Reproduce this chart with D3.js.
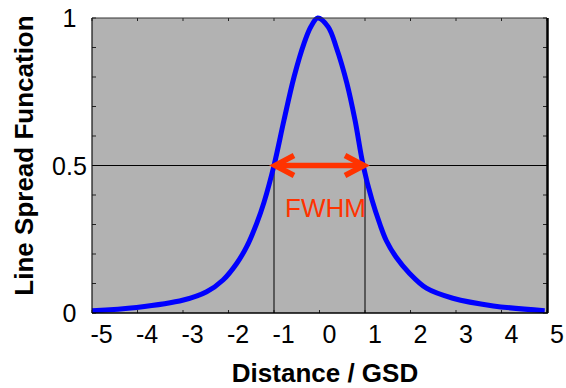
<!DOCTYPE html>
<html><head><meta charset="utf-8">
<script src="https://cdn.jsdelivr.net/npm/d3@7"></script>
<style>body{margin:0;background:#fff}svg{display:block}text{font-family:"Liberation Sans",Arial,sans-serif}</style>
</head><body><svg id="c" width="566" height="388"></svg>
<script>
// Data
const lsfX = [-5, -4.02, -2.99, -2.48, -2.12, -1.82, -1.60, -1.38, -1.22, -1.0, -0.78, -0.56, -0.34, -0.19, -0.04, 0.19, 0.37, 0.60, 0.78, 0.96, 1.15, 1.33, 1.47, 1.69, 1.98, 2.35, 2.93, 3.82, 4.95];
const lsfY = [0.008, 0.019, 0.044, 0.072, 0.112, 0.168, 0.225, 0.304, 0.375, 0.5, 0.654, 0.80, 0.914, 0.97, 1.0, 0.97, 0.90, 0.78, 0.654, 0.5, 0.385, 0.300, 0.245, 0.188, 0.134, 0.084, 0.05, 0.024, 0.008];
const xTicks = [-5, -4, -3, -2, -1, 0, 1, 2, 3, 4, 5];
const yTickLabels = [0, 0.5, 1];
const yMinorTicks = [0, 0.1, 0.2, 0.3, 0.4, 0.5, 0.6, 0.7, 0.8, 0.9, 1];
const halfMax = 0.5;
const fwhmLeft = -1, fwhmRight = 1;
const xTitle = "Distance / GSD";
const yTitle = "Line Spread Funcation";
const fwhmLabel = "FWHM";

const svg = d3.select("#c");
const L = 92, R = 547, T = 18, B = 313;
const x = d3.scaleLinear().domain([-5, 5]).range([L, R]);
const y = d3.scaleLinear().domain([0, 1]).range([B, T]);

svg.append("rect").attr("x", L).attr("y", T).attr("width", R - L).attr("height", B - T).attr("fill", "#b2b2b2");

// ticks (inward)
const g = svg.append("g").attr("stroke", "#222").attr("stroke-width", 1);
xTicks.forEach(v => {
  g.append("line").attr("x1", x(v)).attr("x2", x(v)).attr("y1", B).attr("y2", B - 3);
  g.append("line").attr("x1", x(v)).attr("x2", x(v)).attr("y1", T).attr("y2", T + 3);
});
yMinorTicks.forEach(v => {
  g.append("line").attr("x1", L).attr("x2", L + 4).attr("y1", y(v)).attr("y2", y(v));
  g.append("line").attr("x1", R).attr("x2", R - 4).attr("y1", y(v)).attr("y2", y(v));
});

// half max line and verticals
svg.append("line").attr("x1", L).attr("x2", R).attr("y1", y(halfMax)).attr("y2", y(halfMax)).attr("stroke", "#000").attr("stroke-width", 1);
[fwhmLeft, fwhmRight].forEach(v => {
  svg.append("line").attr("x1", x(v)).attr("x2", x(v)).attr("y1", y(halfMax)).attr("y2", B).attr("stroke", "#000").attr("stroke-width", 1);
});

// curve
const pts = lsfX.map((v, i) => [v, lsfY[i]]);
svg.append("path").datum(pts)
  .attr("d", d3.line().x(d => x(d[0])).y(d => y(d[1])).curve(d3.curveCatmullRom.alpha(0.5)))
  .attr("fill", "none").attr("stroke", "#0000ff").attr("stroke-width", 5).attr("stroke-linejoin", "round");

// frame
svg.append("line").attr("x1", L).attr("x2", R).attr("y1", T).attr("y2", T).attr("stroke", "#333").attr("stroke-width", 1);
svg.append("line").attr("x1", L).attr("x2", L).attr("y1", T).attr("y2", B).attr("stroke", "#111").attr("stroke-width", 1.2);
svg.append("line").attr("x1", L).attr("x2", R + 1).attr("y1", B).attr("y2", B).attr("stroke", "#000").attr("stroke-width", 1.5);
svg.append("line").attr("x1", R + 0.5).attr("x2", R + 0.5).attr("y1", T).attr("y2", B).attr("stroke", "#000").attr("stroke-width", 2.5);

// arrow
const red = "#ff3300";
const ax1 = x(fwhmLeft), ax2 = x(fwhmRight), ay = y(halfMax);
const ar = svg.append("g").attr("stroke", red).attr("stroke-width", 5.5).attr("fill", "none").attr("stroke-linecap", "butt");
ar.append("line").attr("x1", ax1 + 2).attr("x2", ax2 - 2).attr("y1", ay).attr("y2", ay);
ar.append("path").attr("d", `M${ax1 + 20},${ay - 10}L${ax1 + 1},${ay}L${ax1 + 20},${ay + 10}`).attr("stroke-linejoin", "miter");
ar.append("path").attr("d", `M${ax2 - 20},${ay - 10}L${ax2 - 1},${ay}L${ax2 - 20},${ay + 10}`).attr("stroke-linejoin", "miter");

svg.append("text").attr("x", (ax1 + ax2) / 2 + 6).attr("y", 217).attr("text-anchor", "middle")
  .attr("font-size", 26).attr("fill", red).text(fwhmLabel);

// tick labels
xTicks.forEach(v => {
  svg.append("text").attr("x", x(v) + (v < 0 ? -1.5 : 3)).attr("y", 343).attr("font-size", 25).attr("fill", "#000").text(String(v));
});
yTickLabels.forEach(v => {
  svg.append("text").attr("x", 69.5).attr("y", y(v) + 9).attr("text-anchor", "middle").attr("font-size", 25).attr("fill", "#000").text(String(v));
});

// titles
svg.append("text").attr("x", 325).attr("y", 382).attr("text-anchor", "middle").attr("font-size", 26).attr("font-weight", "bold").text(xTitle);
svg.append("text").attr("transform", "translate(33,155.5) rotate(-90)").attr("text-anchor", "middle").attr("font-size", 26).attr("font-weight", "bold").text(yTitle);
</script></body></html>
